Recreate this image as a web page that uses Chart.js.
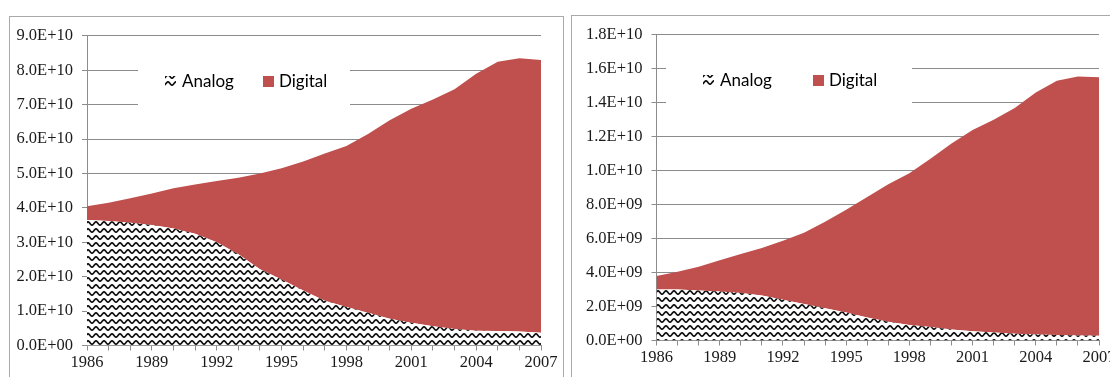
<!DOCTYPE html>
<html>
<head>
<meta charset="utf-8">
<script src="https://cdn.jsdelivr.net/npm/chart.js@4.4.1/dist/chart.umd.min.js"></script>
<style>
  html, body { margin: 0; padding: 0; background: #fff; overflow: hidden; width: 1110px; height: 377px; }
  .panel { position: absolute; border: 1px solid #a9a9a9; background: #fff; }
  #p1 { left: 9px; top: 16px; width: 553px; height: 380px; }
  #p2 { left: 571px; top: 15px; width: 600px; height: 380px; }
  canvas { position: absolute; left: 0; top: 0; }
</style>
</head>
<body>
<div class="panel" id="p1"><canvas id="c1" width="552" height="360"></canvas></div>
<div class="panel" id="p2"><canvas id="c2" width="570" height="361"></canvas></div>
<script>
// Years on the horizontal axis
const years = ['1986','1987','1988','1989','1990','1991','1992','1993','1994','1995','1996',
               '1997','1998','1999','2000','2001','2002','2003','2004','2005','2006','2007'];

// Left panel: stacked series
const analogLeft  = [3.65e10,3.62e10,3.57e10,3.50e10,3.40e10,3.25e10,3.00e10,2.65e10,2.22e10,1.92e10,1.60e10,
                     1.30e10,1.12e10,0.95e10,0.78e10,0.66e10,0.56e10,0.48e10,0.43e10,0.42e10,0.41e10,0.37e10];
const digitalLeft = [0.40e10,0.53e10,0.71e10,0.92e10,1.17e10,1.43e10,1.78e10,2.23e10,2.78e10,3.23e10,3.75e10,
                     4.28e10,4.68e10,5.20e10,5.77e10,6.22e10,6.59e10,6.97e10,7.47e10,7.83e10,7.94e10,7.93e10];

// Right panel: stacked series
const analogRight  = [3.00e9,3.00e9,2.95e9,2.88e9,2.80e9,2.65e9,2.40e9,2.15e9,1.90e9,1.65e9,1.35e9,
                      1.10e9,0.92e9,0.80e9,0.65e9,0.55e9,0.47e9,0.40e9,0.35e9,0.32e9,0.30e9,0.28e9];
const digitalRight = [0.80e9,1.05e9,1.40e9,1.84e9,2.30e9,2.80e9,3.48e9,4.20e9,5.10e9,6.05e9,7.10e9,
                      8.10e9,8.93e9,9.90e9,10.95e9,11.85e9,12.53e9,13.30e9,14.25e9,14.98e9,15.25e9,15.22e9];

// Axis ranges
const yMaxLeft = 9e10,  yStepLeft = 1e10;
const yMaxRight = 1.8e10, yStepRight = 2e9;

const seriesNames = ['Analog', 'Digital'];
const digitalColor = '#C0504D';

// Wavy hatch used for the analog area
function wavePattern() {
  const c = document.createElement('canvas');
  c.width = 8; c.height = 7;
  const g = c.getContext('2d');
  g.fillStyle = '#fff';
  g.fillRect(0, 0, 8, 7);
  g.strokeStyle = '#111';
  g.lineWidth = 1.7;
  g.beginPath();
  for (let x = -1; x <= 9; x += 0.25) {
    const y = 3.5 + 1.6 * Math.sin(x / 8 * 2 * Math.PI);
    if (x === -1) g.moveTo(x, y); else g.lineTo(x, y);
  }
  g.stroke();
  return g.createPattern(c, 'repeat');
}
const analogFill = wavePattern();

// Scientific tick labels such as 9.0E+10 / 0.0E+00
function sci(v) {
  if (Math.abs(v) < 1) return '0.0E+00';
  const e = Math.floor(Math.log10(Math.abs(v)) + 1e-9);
  const m = v / Math.pow(10, e);
  return m.toFixed(1) + 'E+' + String(e).padStart(2, '0');
}

// Legend drawn inside the plot on a white box that hides the grid behind it
const boxLegend = {
  id: 'boxLegend',
  beforeDatasetsDraw(chart, args, opts) {
    const ctx = chart.ctx;
    ctx.save();
    ctx.fillStyle = '#fff';
    ctx.fillRect(opts.box[0], opts.box[1], opts.box[2], opts.box[3]);
    ctx.restore();
  },
  afterDatasetsDraw(chart, args, opts) {
    const ctx = chart.ctx;
    ctx.save();
    chart.data.datasets.forEach((ds, i) => {
      const it = opts.items[i];
      ctx.fillStyle = ds.backgroundColor;
      ctx.fillRect(it.sx, it.sy, opts.swatch, opts.swatch);
      ctx.fillStyle = '#000';
      ctx.font = opts.font;
      ctx.textBaseline = 'middle';
      ctx.textAlign = 'left';
      ctx.fillText(ds.label, it.tx, it.ty);
    });
    ctx.restore();
  }
};

const gridColor = '#8c8c8c';
const tickFont = { family: 'Liberation Serif', size: 16.5 };

function makeChart(id, analog, digital, yMax, yStep, geo, legendOpts) {
  return new Chart(document.getElementById(id), {
    type: 'line',
    data: {
      labels: years,
      datasets: [
        { label: seriesNames[0], data: analog, backgroundColor: analogFill, fill: 'origin',
          borderColor: 'rgba(0,0,0,0)', borderWidth: 0, pointRadius: 0, tension: 0 },
        { label: seriesNames[1], data: digital, backgroundColor: digitalColor, fill: '-1',
          borderColor: 'rgba(0,0,0,0)', borderWidth: 0, pointRadius: 0, tension: 0 }
      ]
    },
    options: {
      responsive: false,
      animation: false,
      devicePixelRatio: 1,
      layout: { padding: { left: 0, top: geo.top, right: geo.right, bottom: 0 } },
      plugins: {
        legend: { display: false },
        tooltip: { enabled: false },
        boxLegend: legendOpts
      },
      scales: {
        x: {
          type: 'category',
          offset: false,
          grid: { drawOnChartArea: false, drawTicks: true, tickLength: 5, color: gridColor },
          border: { display: true, color: gridColor },
          ticks: {
            autoSkip: false, maxRotation: 0, padding: 2, color: '#1a1a1a', font: tickFont,
            callback(val, idx) { return idx % 3 === 0 ? this.getLabelForValue(val) : ''; }
          },
          afterFit(scale) { scale.height = geo.xHeight; }
        },
        y: {
          stacked: true,
          min: 0, max: yMax,
          grid: { drawTicks: true, tickLength: 5, color: gridColor },
          border: { display: true, color: gridColor },
          ticks: { stepSize: yStep, padding: 9, color: '#1a1a1a', font: tickFont,
                   callback: (v) => sci(v) },
          afterFit(scale) { scale.width = geo.yWidth; }
        }
      }
    },
    plugins: [boxLegend]
  });
}

makeChart('c1', analogLeft, digitalLeft, yMaxLeft, yStepLeft,
  { top: 16, right: 21, xHeight: 31.5, yWidth: 77 },
  { box: [128, 35, 212, 60], swatch: 11, font: '17px Lato',
    items: [ { sx: 155, sy: 59, tx: 172, ty: 65 }, { sx: 253, sy: 59, tx: 269, ty: 65 } ] });

makeChart('c2', analogRight, digitalRight, yMaxRight, yStepRight,
  { top: 17, right: 43, xHeight: 36.5, yWidth: 84.5 },
  { box: [94, 34, 246, 62], swatch: 11, font: '17px Lato',
    items: [ { sx: 131, sy: 59, tx: 148, ty: 65 }, { sx: 241, sy: 59, tx: 257, ty: 65 } ] });
</script>
</body>
</html>
